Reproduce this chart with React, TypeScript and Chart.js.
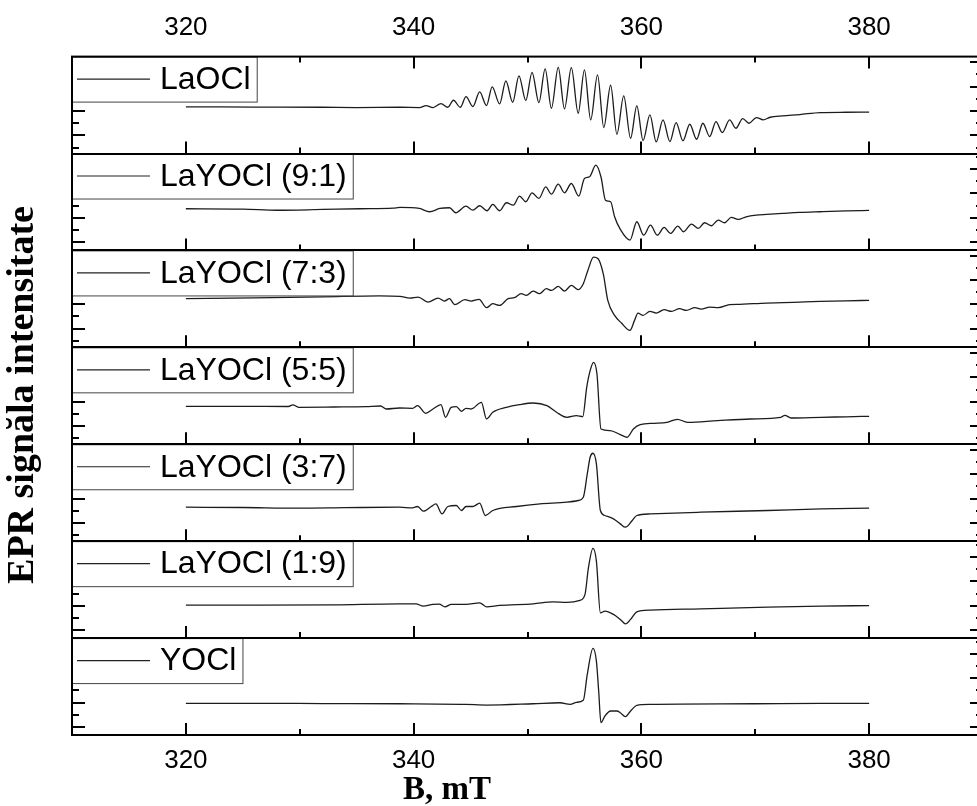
import React, { useEffect, useRef } from "react";
import { Chart, registerables } from "chart.js";

Chart.register(...registerables);

// ---------- data (magnetic field B in mT, EPR signal in a.u. per panel) ----------
const panelLabels = [
  "LaOCl",
  "LaYOCl (9:1)",
  "LaYOCl (7:3)",
  "LaYOCl (5:5)",
  "LaYOCl (3:7)",
  "LaYOCl (1:9)",
  "YOCl",
];

const laoclB = [320, 326, 332, 335, 338.8, 340.5, 341.1, 341.7, 342.4, 343.0, 343.5, 344.1, 344.6, 345.2, 345.8, 346.4, 346.9, 347.55, 348.1, 348.7, 349.25, 349.85, 350.4, 351.0, 351.55, 352.1, 352.7, 353.25, 353.85, 354.45, 355.0, 355.55, 356.15, 356.7, 357.3, 357.85, 358.45, 359.05, 359.6, 360.15, 360.75, 361.3, 361.9, 362.5, 363.05, 363.65, 364.25, 364.85, 365.4, 366.0, 366.55, 367.1, 367.75, 368.3, 368.9, 369.45, 370.1, 370.7, 371.3, 372.4, 373.9, 375.7, 378, 380];
const laoclI = [40.7, 40.5, 40.3, 40.0, 40.3, 40.0, 42.0, 40.0, 44.0, 40.3, 47.3, 40.3, 51.0, 41.0, 55.7, 42.0, 60.7, 43.7, 66.7, 45.3, 71.7, 47.0, 75.3, 45.0, 78.7, 39.3, 80.3, 38.7, 80.0, 34.3, 77.7, 27.7, 72.7, 20.0, 62.3, 13.3, 51.7, 9.3, 41.7, 7.0, 32.7, 5.7, 27.7, 6.0, 25.0, 6.7, 23.3, 8.3, 24.3, 11.0, 26.0, 15.0, 27.7, 19.3, 29.0, 24.3, 30.0, 27.7, 30.3, 31.7, 33.0, 35.0, 35.3, 35.5];

const la91B = [320, 325, 328, 332, 335.3, 338.2, 338.8, 340.5, 341.4, 342.3, 343.15, 343.7, 344.6, 345.2, 345.8, 346.45, 346.95, 347.55, 348.15, 348.75, 349.3, 349.85, 350.4, 351.0, 351.6, 352.1, 352.7, 353.25, 353.85, 354.5, 355.0, 355.45, 356.0, 356.45, 356.85, 357.3, 357.65, 358.15, 359.0, 359.6, 360.2, 360.8, 361.4, 362.0, 362.55, 363.2, 363.7, 364.4, 365.0, 365.55, 366.15, 366.75, 367.3, 367.9, 368.5, 369.2, 370.1, 371.0, 372.4, 373.9, 375.7, 378, 380];
const la91I = [35.7, 35.4, 34.2, 35.0, 35.7, 36.3, 37.0, 36.0, 32.7, 36.0, 36.7, 31.7, 38.3, 34.3, 38.7, 33.7, 40.0, 33.7, 41.7, 39.3, 48.3, 42.7, 51.7, 46.0, 57.7, 50.3, 60.3, 51.7, 61.0, 48.3, 66.0, 67.7, 79.3, 67.7, 44.3, 42.7, 27.7, 15.0, 4.3, 22.7, 9.3, 19.3, 9.3, 17.0, 11.0, 18.3, 12.7, 20.3, 16.0, 21.7, 18.7, 24.3, 21.7, 27.0, 25.0, 27.7, 29.3, 30.0, 31.0, 32.0, 32.7, 33.5, 34.0];

const la73B = [320, 326, 332, 337, 338.8, 339.65, 340.4, 341.25, 342.15, 342.7, 343.15, 343.6, 344.5, 345.05, 345.75, 346.4, 346.95, 347.55, 348.3, 348.85, 349.45, 349.9, 350.5, 351.05, 351.65, 352.1, 352.7, 353.25, 353.85, 354.45, 354.9, 355.3, 355.8, 356.2, 356.65, 357.05, 357.65, 358.25, 359.0, 359.4, 359.7, 360.15, 360.75, 361.3, 362.0, 362.65, 363.35, 363.95, 364.7, 365.25, 366.0, 366.75, 367.75, 368.65, 369.8, 371.0, 372.45, 373.9, 375.7, 378, 380];
const la73I = [42.7, 43.5, 44.5, 45.5, 45.0, 43.3, 44.3, 39.3, 43.3, 40.3, 42.7, 36.7, 41.7, 40.3, 42.0, 33.7, 37.7, 36.0, 42.7, 43.7, 47.7, 46.0, 50.3, 47.7, 52.7, 51.0, 55.0, 50.3, 56.0, 51.7, 57.7, 71.0, 84.3, 82.7, 67.7, 41.0, 26.0, 18.3, 11.0, 21.0, 28.3, 26.0, 30.0, 28.3, 31.7, 30.0, 32.7, 31.0, 33.7, 32.3, 34.3, 33.7, 36.7, 37.0, 37.7, 38.3, 38.7, 39.3, 40.0, 40.6, 41.0];

const la55B = [320, 325, 329.0, 329.4, 329.9, 333, 335.8, 337.1, 337.6, 338.75, 339.9, 340.35, 341.05, 341.7, 342.4, 342.8, 343.3, 343.75, 344.2, 344.6, 345.05, 345.95, 346.4, 346.95, 348.15, 349.3, 350.5, 351.7, 352.55, 353.45, 354.3, 354.85, 355.2, 355.5, 355.8, 356.1, 356.45, 357.25, 358.15, 358.75, 359.3, 359.9, 361.1, 362.25, 363.15, 364.05, 366.7, 369.6, 372.25, 372.6, 373.15, 375.8, 378, 380];
const la55I = [32.0, 32.0, 31.8, 33.5, 31.0, 31.3, 31.7, 32.3, 29.3, 30.3, 30.0, 32.7, 25.0, 29.3, 33.7, 21.0, 31.0, 31.7, 27.0, 30.0, 29.3, 36.0, 19.3, 26.0, 31.0, 33.7, 35.3, 32.7, 26.0, 21.0, 22.7, 21.7, 51.0, 67.7, 76.0, 64.3, 9.3, 7.7, 3.7, 1.0, 9.3, 13.7, 15.0, 16.0, 19.0, 16.0, 17.7, 19.3, 21.0, 23.0, 20.3, 21.0, 21.5, 22.0];

const la37B = [320, 325, 329.9, 334, 338.75, 339.9, 340.35, 340.85, 341.55, 341.95, 342.5, 343.0, 343.75, 344.2, 344.6, 345.2, 345.8, 346.3, 346.95, 349.05, 351.1, 353.45, 354.45, 354.9, 355.25, 355.5, 355.75, 356.05, 356.4, 356.8, 357.55, 358.15, 358.6, 359.2, 359.6, 360.8, 365.2, 371.1, 375.8, 380];
const la37I = [28.0, 27.7, 27.0, 27.5, 28.0, 27.3, 28.7, 24.0, 28.7, 31.3, 21.3, 28.7, 29.7, 24.7, 28.7, 28.7, 32.0, 19.7, 24.7, 28.7, 31.3, 33.0, 34.7, 38.0, 61.3, 78.0, 82.0, 71.3, 24.7, 19.7, 16.3, 11.3, 8.0, 14.7, 19.7, 21.3, 23.0, 24.7, 26.3, 27.0];

const la19B = [320, 326, 333, 338.75, 340.2, 340.85, 341.7, 342.25, 342.75, 343.3, 344.6, 345.8, 346.4, 347.55, 350.5, 352.25, 353.45, 354.6, 355.05, 355.35, 355.75, 356.05, 356.4, 356.8, 357.55, 358.15, 358.6, 359.05, 359.6, 360.8, 365.2, 371.1, 375.8, 380];
const la19I = [27.0, 27.0, 27.3, 28.3, 28.3, 26.0, 27.7, 28.0, 25.3, 27.7, 27.7, 29.3, 25.3, 26.7, 28.3, 30.3, 29.7, 31.7, 37.7, 64.3, 83.7, 71.0, 19.3, 21.0, 17.7, 12.7, 8.3, 12.7, 20.3, 22.0, 23.3, 25.0, 26.0, 26.5];

const yoclB = [320, 326, 332, 338.75, 344.6, 346.4, 350.5, 352.85, 353.75, 354.3, 354.9, 355.25, 355.75, 356.05, 356.25, 356.45, 356.8, 357.3, 357.85, 358.15, 358.6, 359.05, 359.6, 360.8, 370, 375.8, 380];
const yoclI = [25.7, 25.7, 25.5, 25.3, 24.7, 24.0, 25.3, 26.3, 24.7, 26.7, 28.7, 54.7, 80.7, 68.0, 38.0, 6.3, 13.0, 18.0, 18.0, 16.3, 12.3, 18.0, 23.7, 24.7, 25.3, 25.7, 25.7];

const seriesB = [laoclB, la91B, la73B, la55B, la37B, la19B, yoclB];
const seriesI = [laoclI, la91I, la73I, la55I, la37I, la19I, yoclI];

const fieldLabels = [320, 340, 360, 380];
const fieldMin = 310;
const fieldMax = 390;
const fieldStep = 10;

// per-panel intensity axis
const panelMin = -6;
const panelMax = 91;
const panelTickStep = 12.2;
const panelTickStart = [0, 2.2, 0.5, 0, 0, 2, 2];
const panelFirstTickMajor = [false, true, false, false, false, true, true];

const xTitle = "B, mT";
const yTitle = "EPR signăla intensitate";

const SANS = "'Liberation Sans', Arial, sans-serif";
const SERIF = "'Liberation Serif', 'Times New Roman', serif";

const CANVAS_SHIFT = 12;

const panelIds = panelLabels.map((_, i) => "y" + i);

const decorPlugin = {
  id: "decor",
  afterDatasetsDraw(chart: any) {
    const ctx = chart.ctx as CanvasRenderingContext2D;
    const area = chart.chartArea;
    const xs = chart.scales.x;
    const line = (x1: number, y1: number, x2: number, y2: number) => {
      ctx.beginPath();
      ctx.moveTo(x1, y1);
      ctx.lineTo(x2, y2);
      ctx.stroke();
    };
    ctx.save();
    ctx.strokeStyle = "#000";
    ctx.lineWidth = 2;
    panelIds.forEach((id, p) => {
      const ys = chart.scales[id];
      xs.ticks.forEach((t: any) => {
        if (t.value <= xs.min || t.value >= xs.max) return;
        const px = Math.round(xs.getPixelForValue(t.value));
        const len = t.value % 20 === 0 ? 12 : 6;
        line(px, ys.bottom, px, ys.bottom - len);
        if (p === 0) line(px, ys.top, px, ys.top + len);
      });
      ys.ticks.forEach((t: any) => {
        const py = Math.round(ys.getPixelForValue(t.value));
        const len = t.major ? 13 : 7;
        line(area.left, py, area.left + len, py);
        line(area.right, py, area.right - len, py);
      });
    });
    // legend boxes
    ctx.font = `32px ${SANS}`;
    panelIds.forEach((id, p) => {
      const ys = chart.scales[id];
      const bx = area.left;
      const by = ys.top;
      const tx = bx + 88;
      const w = tx - bx + ctx.measureText(panelLabels[p]).width + 6;
      const h = 45;
      ctx.fillStyle = "#fff";
      ctx.fillRect(bx, by, w, h);
      ctx.strokeStyle = "#444";
      ctx.lineWidth = 1;
      ctx.strokeRect(bx + 0.5, by + 0.5, w, h);
      ctx.strokeStyle = "#222";
      ctx.lineWidth = 1.2;
      line(bx + 5, by + h / 2, bx + 78, by + h / 2);
      ctx.fillStyle = "#000";
      ctx.textBaseline = "middle";
      ctx.textAlign = "left";
      ctx.fillText(panelLabels[p], tx, by + h / 2 + 1);
    });
    // frame
    ctx.strokeStyle = "#000";
    ctx.lineWidth = 2;
    ctx.strokeRect(area.left, area.top, area.right - area.left, area.bottom - area.top);
    panelIds.forEach((id, p) => {
      if (p === panelIds.length - 1) return;
      const ys = chart.scales[id];
      line(area.left, Math.round(ys.bottom), area.right, Math.round(ys.bottom));
    });
    ctx.restore();
  },
  afterDraw(chart: any) {
    const ctx = chart.ctx as CanvasRenderingContext2D;
    ctx.save();
    ctx.fillStyle = "#000";
    ctx.textAlign = "center";
    ctx.textBaseline = "middle";
    ctx.font = `bold 33px ${SERIF}`;
    ctx.fillText(xTitle, 447, 790 + CANVAS_SHIFT);
    ctx.translate(23, 395 + CANVAS_SHIFT);
    ctx.rotate(-Math.PI / 2);
    ctx.font = `bold 38px ${SERIF}`;
    ctx.fillText(yTitle, 0, 0);
    ctx.restore();
  },
};

export default function App() {
  const ref = useRef<HTMLCanvasElement | null>(null);
  useEffect(() => {
    if (!ref.current) return;
    const datasets = panelLabels.map((label, p) => ({
      label,
      data: seriesB[p].map((b, i) => ({ x: b, y: seriesI[p][i] })),
      xAxisID: "x",
      yAxisID: panelIds[p],
      borderColor: "#1c1c1c",
      borderWidth: 1.3,
      pointRadius: 0,
      fill: false,
      cubicInterpolationMode: "monotone" as const,
    }));
    const tickFont = { family: SANS, size: 26 };
    const scales: any = {
      x: {
        type: "linear",
        position: "bottom",
        min: fieldMin,
        max: fieldMax,
        grid: { display: false, drawTicks: false },
        border: { display: false },
        ticks: {
          stepSize: fieldStep,
          padding: 10,
          color: "#000",
          font: tickFont,
          maxRotation: 0,
          autoSkip: false,
          callback: (v: any) => (fieldLabels.includes(Number(v)) ? String(v) : ""),
        },
      },
      x2: {
        type: "linear",
        position: "top",
        min: fieldMin,
        max: fieldMax,
        grid: { display: false, drawTicks: false },
        border: { display: false },
        ticks: {
          stepSize: fieldStep,
          padding: 13,
          color: "#000",
          font: tickFont,
          maxRotation: 0,
          autoSkip: false,
          callback: (v: any) => (fieldLabels.includes(Number(v)) ? String(v) : ""),
        },
      },
    };
    panelIds.forEach((id, p) => {
      scales[id] = {
        type: "linear",
        position: "left",
        stack: "panels",
        stackWeight: 1,
        weight: panelIds.length - p,
        min: panelMin,
        max: panelMax,
        offset: false,
        grid: { display: false, drawTicks: false },
        border: { display: false },
        ticks: { display: false },
        afterBuildTicks: (axis: any) => {
          const start = panelTickStart[p];
          const kMin = Math.ceil((axis.min - start) / panelTickStep);
          const ticks: any[] = [];
          for (let k = kMin; ; k++) {
            const v = start + k * panelTickStep;
            if (v > axis.max) break;
            const even = ((k % 2) + 2) % 2 === 0;
            ticks.push({ value: v, major: even === panelFirstTickMajor[p] });
          }
          axis.ticks = ticks;
        },
      };
    });
    const chart = new Chart(ref.current, {
      type: "line",
      data: { datasets },
      options: {
        responsive: false,
        animation: false,
        devicePixelRatio: 1,
        layout: { padding: { left: 72, right: 17, top: 11.4, bottom: 31.8 } },
        plugins: { legend: { display: false }, tooltip: { enabled: false }, title: { display: false } },
        scales,
      },
      plugins: [decorPlugin],
    });
    return () => chart.destroy();
  }, []);
  return (
    <div style={{ position: "absolute", left: 0, top: 0, width: 977, height: 806, overflow: "hidden", background: "#fff" }}>
      <canvas ref={ref} width={1000} height={830} style={{ display: "block", marginTop: -CANVAS_SHIFT }} />
    </div>
  );
}
